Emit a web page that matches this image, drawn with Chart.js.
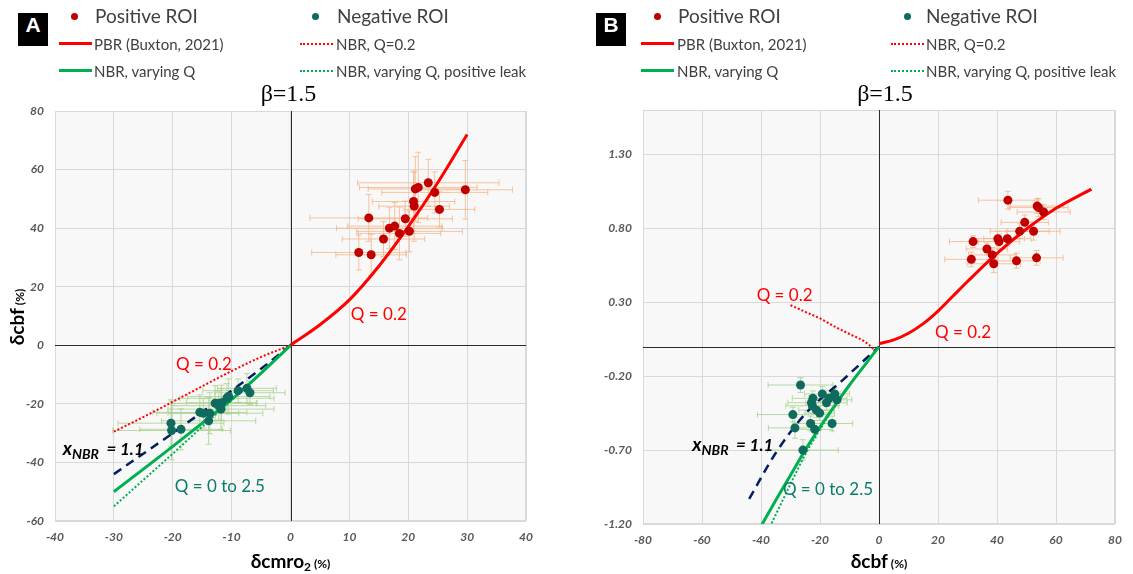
<!DOCTYPE html>
<html>
<head>
<meta charset="utf-8">
<script src="https://cdn.jsdelivr.net/npm/chart.js@4.4.1/dist/chart.umd.min.js"></script>
<style>
  body { margin: 0; background: #fff; width: 1133px; height: 574px; position: relative; overflow: hidden; font-family: Lato, sans-serif; }
  canvas { position: absolute; top: 0; }
  #chartA { left: 0; }
  #chartB { left: 566px; }
  .tag { position: absolute; top: 13px; width: 30px; height: 33px; line-height: 33px; background: #000; color: #fff;
         font: bold 21px 'Liberation Sans', Arial, sans-serif; text-align: center; }
  .leg { position: absolute; color: #404040; font-size: 15px; line-height: 18px; white-space: nowrap; }
  .leg.big { font-size: 19px; line-height: 20px; top: 6px; }
  .dot { position: absolute; top: 13px; width: 7px; height: 7px; border-radius: 50%; }
  .sw { position: absolute; width: 33px; height: 0; }
</style>
</head>
<body>
<canvas id="chartA" width="566" height="574"></canvas>
<canvas id="chartB" width="567" height="574"></canvas>

<!-- legend, panel A -->
<div class="tag" style="left:18px">A</div>
<div class="dot" style="left:71px;background:#C00000"></div>
<div class="leg big" style="left:95px">Positive ROI</div>
<div class="dot" style="left:312px;background:#0E6B5E"></div>
<div class="leg big" style="left:337px">Negative ROI</div>
<div class="sw" style="left:59px;top:42px;border-top:3px solid #FF0000"></div>
<div class="leg" style="left:94px;top:35px">PBR (Buxton, 2021)</div>
<div class="sw" style="left:300px;top:43px;border-top:2px dotted #FF0000"></div>
<div class="leg" style="left:336px;top:35px">NBR, Q=0.2</div>
<div class="sw" style="left:59px;top:69px;border-top:3px solid #00B050"></div>
<div class="leg" style="left:94px;top:62px">NBR, varying Q</div>
<div class="sw" style="left:300px;top:70px;border-top:2px dotted #00B050"></div>
<div class="leg" style="left:336px;top:62px">NBR, varying Q, positive leak</div>

<!-- legend, panel B -->
<div class="tag" style="left:596px">B</div>
<div class="dot" style="left:654px;background:#C00000"></div>
<div class="leg big" style="left:678px">Positive ROI</div>
<div class="dot" style="left:904px;background:#0E6B5E"></div>
<div class="leg big" style="left:926px">Negative ROI</div>
<div class="sw" style="left:641px;top:42px;border-top:3px solid #FF0000"></div>
<div class="leg" style="left:677px;top:35px">PBR (Buxton, 2021)</div>
<div class="sw" style="left:891px;top:43px;border-top:2px dotted #FF0000"></div>
<div class="leg" style="left:926px;top:35px">NBR, Q=0.2</div>
<div class="sw" style="left:641px;top:69px;border-top:3px solid #00B050"></div>
<div class="leg" style="left:677px;top:62px">NBR, varying Q</div>
<div class="sw" style="left:891px;top:70px;border-top:2px dotted #00B050"></div>
<div class="leg" style="left:926px;top:62px">NBR, varying Q, positive leak</div>

<script>
// ---- panel A: dCBF vs dCMRO2 ----
const aXTicks = [-40, -30, -20, -10, 0, 10, 20, 30, 40];
const aYTicks = [-60, -40, -20, 0, 20, 40, 60, 80];

const aPosX = [11.6, 13.7, 13.3, 15.8, 16.8, 17.7, 18.5, 19.5, 20.2, 20.9, 21.0, 21.2, 21.7, 23.4, 24.5, 25.3, 29.7];
const aPosY = [31.7, 30.9, 43.5, 36.3, 40.0, 40.7, 38.2, 43.2, 38.9, 49.1, 47.5, 53.4, 53.9, 55.5, 52.2, 46.4, 53.1];
const aPosErrX = [8, 6, 10, 7, 9, 8, 7, 8, 9, 7, 6, 8, 10, 12, 9, 6, 8];
const aPosErrY = [6, 7, 8, 6, 7, 8, 9, 6, 7, 10, 12, 11, 12, 8, 7, 6, 10];

const aNegX = [-20.3, -20.2, -18.6, -15.4, -14.8, -13.7, -13.9, -12.8, -12.2, -11.8, -11.7, -10.8, -10.5, -8.9, -7.4, -6.9];
const aNegY = [-26.6, -29.1, -28.7, -22.9, -23.2, -23.2, -25.8, -19.8, -20.6, -21.8, -19.6, -18.1, -17.5, -15.5, -14.7, -16.2];
const aNegErrX = [9, 10, 7, 8, 6, 9, 8, 7, 8, 9, 6, 8, 7, 6, 5, 6];
const aNegErrY = [8, 10, 7, 6, 5, 7, 8, 6, 5, 7, 6, 5, 6, 4, 5, 4];

const aPbrX = [0, 5, 10, 15, 20, 25, 30];
const aPbrY = [0, 7, 15.5, 27, 40.5, 55.5, 72];
const aQ02X = [-30, -25, -20, -15, -10, -5, 0];
const aQ02Y = [-29.5, -24.5, -19.3, -14, -8.8, -4, 0];
const aXnbrX = [-30, -20, -10, -5, 0];
const aXnbrY = [-44, -30, -15.5, -8, 0];
const aNbrX = [-30, -20, -10, -5, 0];
const aNbrY = [-50, -34.5, -18.5, -9.5, 0];
const aLeakX = [-30, -25, -20, -15, -10, -5, 0];
const aLeakY = [-55, -46, -37, -27.8, -18.8, -9.6, 0];

// ---- panel B: dS_BOLD vs dCBF ----
const bXTicks = [-80, -60, -40, -20, 0, 20, 40, 60, 80];
const bYTicks = [-1.2, -0.7, -0.2, 0.3, 0.8, 1.3];

const bPosX = [43.7, 53.6, 54.1, 55.8, 49.4, 47.7, 52.4, 31.9, 40.3, 40.7, 43.5, 36.6, 38.4, 31.3, 38.9, 46.6, 53.4];
const bPosY = [0.99, 0.95, 0.94, 0.91, 0.84, 0.78, 0.78, 0.71, 0.73, 0.71, 0.73, 0.66, 0.62, 0.59, 0.56, 0.58, 0.60];
const bPosErrX = [10, 9, 10, 9, 8, 10, 9, 8, 9, 7, 8, 7, 8, 9, 9, 8, 9];
const bPosErrY = [0.06, 0.05, 0.06, 0.05, 0.05, 0.05, 0.06, 0.04, 0.05, 0.05, 0.05, 0.04, 0.05, 0.05, 0.06, 0.05, 0.05];

const bNegX = [-26.6, -19.2, -15.0, -22.4, -16.9, -14.2, -22.9, -17.8, -22.6, -21.2, -20.1, -29.2, -23.2, -15.9, -28.5, -21.8, -25.8];
const bNegY = [-0.26, -0.32, -0.32, -0.35, -0.35, -0.36, -0.38, -0.38, -0.40, -0.43, -0.45, -0.46, -0.52, -0.52, -0.55, -0.56, -0.70];
const bNegErrX = [11, 6, 5, 7, 6, 5, 8, 7, 9, 6, 5, 12, 6, 7, 9, 6, 12];
const bNegErrY = [0.05, 0.05, 0.04, 0.05, 0.05, 0.04, 0.05, 0.05, 0.05, 0.05, 0.05, 0.05, 0.05, 0.05, 0.07, 0.06, 0.07];

const bPbrX = [0, 5, 10, 15, 20, 25, 30, 40, 50, 60, 72];
const bPbrY = [0.02, 0.045, 0.09, 0.155, 0.24, 0.34, 0.44, 0.63, 0.795, 0.935, 1.065];
const bQ02X = [-30, -25, -20, -15, -10, -5, -2, -0.8];
const bQ02Y = [0.28, 0.235, 0.19, 0.135, 0.085, 0.035, -0.015, -0.05];
const bXnbrX = [-44, -35, -25, -12.5, 0];
const bXnbrY = [-1.03, -0.72, -0.455, -0.23, 0];
const bNbrX = [-41, -35, -30, -25, -20, -15, -10, -5, 0];
const bNbrY = [-1.25, -1.04, -0.87, -0.7, -0.545, -0.4, -0.26, -0.13, 0];
const bLeakX = [-37, -30, -25, -20, -15, -10, -5, 0];
const bLeakY = [-1.22, -0.93, -0.73, -0.56, -0.405, -0.26, -0.13, 0];

const RED = '#FF0000', GREEN = '#00B050', NAVY = '#002060', TEAL = '#0B7A6A';
const ORANGE_BAR = 'rgba(244,177,131,0.75)', GREEN_BAR = 'rgba(169,209,142,0.8)';

function pts(xs, ys) {
    return xs.map((x, i) => ({ x: x, y: ys[i] }));
}

function dots(xs, ys, ex, ey, color, barColor) {
    return { data: pts(xs, ys), backgroundColor: color, borderWidth: 0, pointRadius: 4.5,
             errX: ex, errY: ey, errColor: barColor };
}

function curve(xs, ys, color, width, dash) {
    return { data: pts(xs, ys), showLine: true, borderColor: color, borderWidth: width,
             borderDash: dash, pointRadius: 0, cubicInterpolationMode: 'monotone' };
}

// draws mixed-size text pieces one after another: [text, font, dy]
function rich(ctx, segs, x, y, align) {
    let w = 0;
    segs.forEach(s => { ctx.font = s[1]; w += ctx.measureText(s[0]).width; });
    let cx = align === 'center' ? x - w / 2 : x;
    segs.forEach(s => {
        ctx.font = s[1];
        ctx.fillText(s[0], cx, y + (s[2] || 0));
        cx += ctx.measureText(s[0]).width;
    });
}

const errorBars = {
    id: 'errorBars',
    beforeDatasetsDraw(chart) {
        const { ctx, chartArea: a, scales: { x, y } } = chart;
        ctx.save();
        ctx.beginPath();
        ctx.rect(a.left, a.top, a.right - a.left, a.bottom - a.top);
        ctx.clip();
        ctx.lineWidth = 1;
        chart.data.datasets.forEach(ds => {
            if (!ds.errX) return;
            ctx.strokeStyle = ds.errColor;
            ds.data.forEach((p, i) => {
                const px = x.getPixelForValue(p.x), py = y.getPixelForValue(p.y);
                const x0 = x.getPixelForValue(p.x - ds.errX[i]), x1 = x.getPixelForValue(p.x + ds.errX[i]);
                const y0 = y.getPixelForValue(p.y - ds.errY[i]), y1 = y.getPixelForValue(p.y + ds.errY[i]);
                ctx.beginPath();
                ctx.moveTo(x0, py); ctx.lineTo(x1, py);
                ctx.moveTo(x0, py - 3); ctx.lineTo(x0, py + 3);
                ctx.moveTo(x1, py - 3); ctx.lineTo(x1, py + 3);
                ctx.moveTo(px, y0); ctx.lineTo(px, y1);
                ctx.moveTo(px - 3, y0); ctx.lineTo(px + 3, y0);
                ctx.moveTo(px - 3, y1); ctx.lineTo(px + 3, y1);
                ctx.stroke();
            });
        });
        ctx.restore();
    }
};

function decor(cfg) {
    return {
        id: 'decor',
        beforeDraw(chart) {
            const { ctx, chartArea: a } = chart;
            ctx.save();
            ctx.fillStyle = '#F8F8F8';
            ctx.fillRect(a.left, a.top, a.right - a.left, a.bottom - a.top);
            ctx.restore();
        },
        beforeDatasetsDraw(chart) {
            const { ctx, chartArea: a, scales: { x, y } } = chart;
            ctx.save();
            ctx.strokeStyle = '#D9D9D9';
            ctx.lineWidth = 1;
            ctx.strokeRect(a.left + 0.5, a.top + 0.5, a.right - a.left - 1, a.bottom - a.top - 1);
            // zero axes
            const x0 = Math.round(x.getPixelForValue(0)) + 0.5, y0 = Math.round(y.getPixelForValue(0)) + 0.5;
            ctx.strokeStyle = '#2b2b2b';
            ctx.beginPath();
            ctx.moveTo(x0, a.top); ctx.lineTo(x0, a.bottom);
            ctx.moveTo(a.left, y0); ctx.lineTo(a.right, y0);
            ctx.stroke();
            ctx.restore();
        },
        afterDraw(chart) {
            const { ctx, chartArea: a, scales: { x, y } } = chart;
            ctx.save();
            ctx.textAlign = 'left';
            ctx.textBaseline = 'alphabetic';
            // title
            ctx.fillStyle = '#000';
            ctx.font = '24px "Liberation Serif", serif';
            ctx.textAlign = 'center';
            ctx.fillText('β=1.5', (a.left + a.right) / 2 + cfg.titleShift, 101);
            ctx.textAlign = 'left';
            // axis titles
            ctx.fillStyle = '#000';
            rich(ctx, cfg.xTitle, (a.left + a.right) / 2, 568, 'center');
            ctx.translate(cfg.yTitlePos[0], cfg.yTitlePos[1]);
            ctx.rotate(-Math.PI / 2);
            rich(ctx, cfg.yTitle, 0, 0, 'center');
            ctx.setTransform(1, 0, 0, 1, 0, 0);
            // notes inside the plot
            cfg.notes.forEach(n => {
                ctx.fillStyle = n.color;
                rich(ctx, n.segs, x.getPixelForValue(n.x), y.getPixelForValue(n.y), n.align);
            });
            ctx.restore();
        }
    };
}

const tickFont = { family: 'Lato', size: 12, style: 'italic', weight: 'bold' };

function makeChart(id, c) {
    return new Chart(document.getElementById(id), {
        type: 'scatter',
        data: { datasets: c.datasets },
        options: {
            responsive: false,
            animation: false,
            layout: { padding: c.padding },
            plugins: { legend: { display: false }, tooltip: { enabled: false } },
            scales: {
                x: {
                    min: c.xTicks[0], max: c.xTicks[c.xTicks.length - 1],
                    afterBuildTicks: s => { s.ticks = c.xTicks.map(v => ({ value: v })); },
                    afterFit: s => { s.height = c.xAxisH; },
                    grid: { color: '#D9D9D9', drawTicks: false },
                    border: { display: false },
                    ticks: { font: tickFont, color: '#595959', padding: 9, maxRotation: 0,
                             callback: v => c.xFmt(v) }
                },
                y: {
                    min: c.yMin, max: c.yMax,
                    afterBuildTicks: s => { s.ticks = c.yTicks.map(v => ({ value: v })); },
                    afterFit: s => { s.width = c.yAxisW; },
                    grid: { color: '#D9D9D9', drawTicks: false },
                    border: { display: false },
                    ticks: { font: tickFont, color: '#595959', padding: 11,
                             callback: v => c.yFmt(v) }
                }
            }
        },
        plugins: [errorBars, decor(c.decor)]
    });
}

const bold = s => 'bold ' + s + 'px Lato, sans-serif';
const nbrLabel = [['x', 'italic bold 19px Lato, sans-serif'], ['NBR', 'italic bold 14px Lato, sans-serif', 4],
                  ['  = 1.1', 'italic bold 17px Lato, sans-serif']];
const qFont = '17px Lato, sans-serif';

makeChart('chartA', {
    padding: { left: 0, right: 40, top: 111, bottom: 0 },
    xAxisH: 53, yAxisW: 55,
    xTicks: aXTicks, yTicks: aYTicks, yMin: -60, yMax: 80,
    xFmt: v => String(v), yFmt: v => String(v),
    datasets: [
        dots(aPosX, aPosY, aPosErrX, aPosErrY, '#C00000', ORANGE_BAR),
        dots(aNegX, aNegY, aNegErrX, aNegErrY, '#0E6B5E', GREEN_BAR),
        curve(aPbrX, aPbrY, RED, 3, []),
        curve(aNbrX, aNbrY, GREEN, 3, []),
        curve(aXnbrX, aXnbrY, NAVY, 2.5, [9, 6]),
        curve(aLeakX, aLeakY, GREEN, 2, [2, 2]),
        curve(aQ02X, aQ02Y, RED, 2, [2, 2])
    ],
    decor: {
        titleShift: -2,
        xTitle: [['δcmro', bold(19)], ['2', bold(12), 3], [' (%)', bold(12)]],
        yTitle: [['δcbf', bold(19)], [' (%)', bold(12)]],
        yTitlePos: [24, 317],
        notes: [
            { segs: [['Q = 0.2', qFont]], x: 15, y: 8.6, align: 'center', color: RED },
            { segs: [['Q = 0.2', qFont]], x: -14.7, y: -8.5, align: 'center', color: RED },
            { segs: nbrLabel, x: -38.7, y: -37.4, align: 'left', color: '#000' },
            { segs: [['Q = 0 to 2.5', qFont]], x: -12, y: -50.1, align: 'center', color: TEAL }
        ]
    }
});

makeChart('chartB', {
    padding: { left: 0, right: 18, top: 110, bottom: 0 },
    xAxisH: 50, yAxisW: 77,
    xTicks: bXTicks, yTicks: bYTicks, yMin: -1.2, yMax: 1.6,
    xFmt: v => String(v), yFmt: v => v.toFixed(2),
    datasets: [
        dots(bPosX, bPosY, bPosErrX, bPosErrY, '#C00000', ORANGE_BAR),
        dots(bNegX, bNegY, bNegErrX, bNegErrY, '#0E6B5E', GREEN_BAR),
        curve(bPbrX, bPbrY, RED, 3, []),
        curve(bNbrX, bNbrY, GREEN, 3, []),
        curve(bXnbrX, bXnbrY, NAVY, 2.5, [9, 6]),
        curve(bLeakX, bLeakY, GREEN, 2, [2, 2]),
        curve(bQ02X, bQ02Y, RED, 2, [2, 2])
    ],
    decor: {
        titleShift: 6,
        xTitle: [['δcbf', bold(19)], [' (%)', bold(12)]],
        yTitle: [['δs', bold(19)], ['BOLD', bold(12), 4], [' (%)', bold(12)]],
        yTitlePos: [600, 317],
        notes: [
            { segs: [['Q = 0.2', qFont]], x: -32, y: 0.31, align: 'center', color: RED },
            { segs: [['Q = 0.2', qFont]], x: 28.5, y: 0.06, align: 'center', color: RED },
            { segs: nbrLabel, x: -63.3, y: -0.703, align: 'left', color: '#000' },
            { segs: [['Q = 0 to 2.5', qFont]], x: -17.3, y: -1.002, align: 'center', color: TEAL }
        ]
    }
});
</script>
</body>
</html>
